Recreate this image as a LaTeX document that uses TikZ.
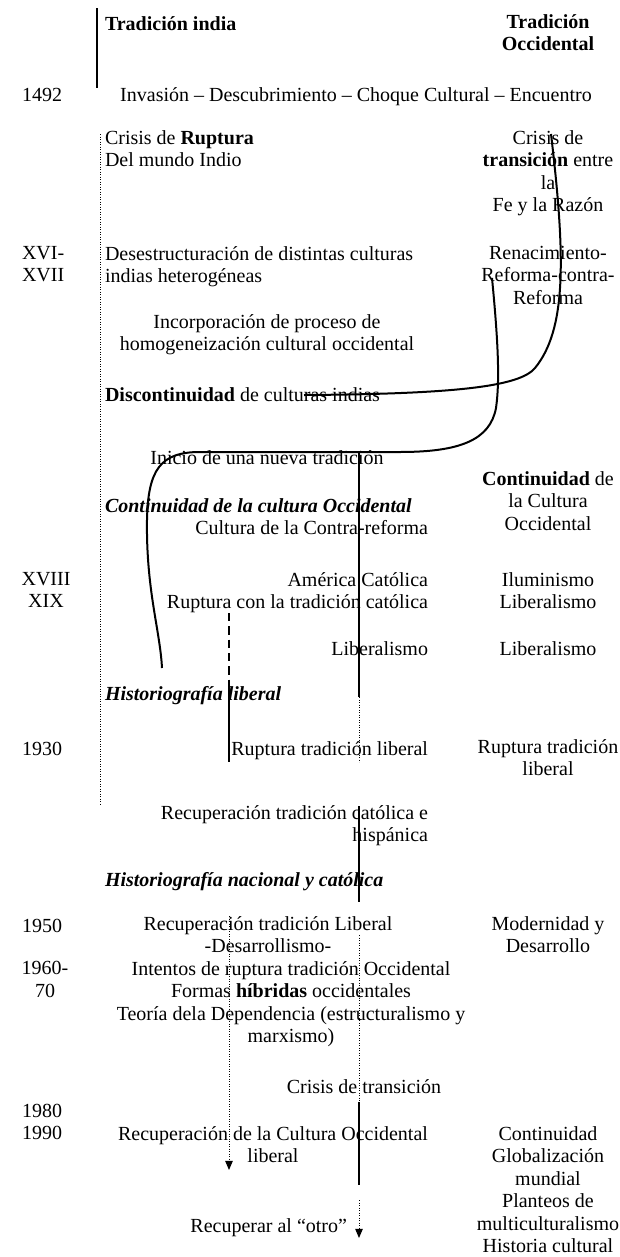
\documentclass[tikz,border=0pt]{standalone}
\usepackage{fontspec}
\setmainfont{Liberation Serif}
\usetikzlibrary{arrows.meta}

\begin{document}
\begin{tikzpicture}[x=0.6pt, y=-0.6pt,
    txt/.style={inner sep=0pt, outer sep=0pt, font=\fontsize{12}{13.5}\selectfont,
                execute at begin node=\strut, yshift=9.45pt},
    izq/.style={txt, anchor=north west, align=left},
    der/.style={txt, anchor=north east, align=right},
    cen/.style={txt, anchor=north, align=center},
    linea/.style={line width=0.9pt},
    curva/.style={line width=1.2pt},
    punteada/.style={line width=0.6pt, dash pattern=on 0.6pt off 0.9pt},
    rayada/.style={line width=0.9pt, dash pattern=on 5pt off 3pt},
    flecha/.style={-{Triangle[length=5.5pt,width=4.5pt]}}]
        \useasboundingbox (0,0) rectangle (620,1257);

        % Encabezados
        \node[izq] (tind) at (105,30) {\textbf{Tradición india}};
        \node[cen] (tocc) at (548,30) {\textbf{Tradición}\\\textbf{Occidental}};

        % 1492
        \node[izq] (a1492) at (22,101) {1492};
        \node[cen] (encuentro) at (356,101) {Invasión – Descubrimiento – Choque Cultural – Encuentro};

        % Crisis
        \node[izq] (rupt) at (105,146) {Crisis de \textbf{Ruptura}\\Del mundo Indio};
        \node[cen] (transic) at (548,146) {Crisis de\\\textbf{transición} entre\\la\\Fe y la Razón};

        % Siglos XVI - XVII
        \node[izq] (s16) at (22,262) {XVI-\\XVII};
        \node[izq] (desest) at (105,262) {Desestructuración de distintas culturas\\indias heterogéneas};
        \node[cen] (renac) at (548,262) {Renacimiento-\\Reforma-contra-\\Reforma};
        \node[cen] (incorp) at (267,330) {Incorporación de proceso de\\homogeneización cultural occidental};
        \node[izq] (discont) at (105,401) {\textbf{Discontinuidad} de culturas indias};

        % Nueva tradicion
        \node[cen] (inicio) at (267,464) {Inicio de una nueva tradición};
        \node[cen] (contocc) at (548,487) {\textbf{Continuidad} de\\la Cultura\\Occidental};
        \node[izq] (contcult) at (105,512) {\textbf{\textit{Continuidad de la cultura Occidental}}};
        \node[der] (contrarref) at (428,534) {Cultura de la Contra-reforma};

        % Siglos XVIII - XIX
        \node[cen] (s18) at (46,588) {XVIII\\XIX};
        \node[der] (amcat) at (428,588) {América Católica\\Ruptura con la tradición católica};
        \node[cen] (ilum) at (548,588) {Iluminismo\\Liberalismo};
        \node[der] (liber) at (428,655) {Liberalismo};
        \node[cen] (liber2) at (548,655) {Liberalismo};
        \node[izq] (histlib) at (105,700) {\textbf{\textit{Historiografía liberal}}};

        % 1930
        \node[izq] (a1930) at (22,755) {1930};
        \node[der] (ruptlib) at (428,755) {Ruptura tradición liberal};
        \node[cen] (ruptlib2) at (548,755) {Ruptura tradición\\liberal};
        \node[der] (recat) at (428,821) {Recuperación tradición católica e\\hispánica};
        \node[izq] (histnac) at (105,886) {\textbf{\textit{Historiografía nacional y católica}}};

        % 1950 - 1970
        \node[izq] (a1950) at (22,932) {1950};
        \node[cen] (relib) at (268,932) {Recuperación tradición Liberal\\-Desarrollismo-};
        \node[cen] (modern) at (548,932) {Modernidad y\\Desarrollo};
        \node[cen] (a1960) at (45,977) {1960-\\70};
        \node[cen] (intentos) at (291,977) {Intentos de ruptura tradición Occidental\\Formas \textbf{híbridas} occidentales\\Teoría dela Dependencia (estructuralismo y\\marxismo)};

        % 1980 - 1990
        \node[cen] (crisis) at (364,1093) {Crisis de transición};
        \node[izq] (a1980) at (22,1119.5) {1980\\1990};
        \node[cen] (recoc) at (273,1142) {Recuperación de la Cultura Occidental\\liberal};
        \node[cen] (global) at (548,1142) {Continuidad\\Globalización\\mundial\\Planteos de\\multiculturalismo\\Historia cultural};
        \node[der] (otro) at (347,1232) {Recuperar al “otro”};

        % Puntos de las lineas
        \coordinate (tI1) at (97,8);    \coordinate (tI2) at (97,88);
        \coordinate (pI1) at (100,134); \coordinate (pI2) at (100,805);
        \coordinate (m1) at (359,452);  \coordinate (m2) at (359,697);
        \coordinate (m3) at (359,762);  \coordinate (m4) at (359,806);
        \coordinate (m5) at (359,902);  \coordinate (m6) at (359,935);
        \coordinate (m7) at (359,1102); \coordinate (m8) at (359,1185);
        \coordinate (m9) at (359,1200); \coordinate (m10) at (359,1238);
        \coordinate (l1) at (229,613);  \coordinate (l2) at (229,680);
        \coordinate (l3) at (229,762);  \coordinate (l4) at (229,916);
        \coordinate (l5) at (229,1170);
        \coordinate (cA1) at (551,134); \coordinate (cA2) at (535,368);
        \coordinate (cA3) at (304,395);
        \coordinate (cB1) at (492,278); \coordinate (cB2) at (496,408);
        \coordinate (cB3) at (400,452); \coordinate (cB4) at (200,452);
        \coordinate (cB5) at (147,520); \coordinate (cB6) at (162,668);

        % Eje de la tradicion india
        \draw[linea] (tI1) -- (tI2);
        \draw[punteada] (pI1) -- (pI2);

        % Linea central
        \draw[linea] (m1) -- (m2);
        \draw[punteada] (m2) -- (m3);
        \draw[linea] (m4) -- (m5);
        \draw[punteada] (m6) -- (m7);
        \draw[linea] (m7) -- (m8);
        \draw[punteada, flecha] (m9) -- (m10);

        % Linea liberal
        \draw[rayada] (l1) -- (l2);
        \draw[linea] (l2) -- (l3);
        \draw[punteada, flecha] (l4) -- (l5);

        % Curvas de la tradicion occidental
        \draw[curva] (cA1) .. controls (566,260) and (566,330) .. (cA2)
            .. controls (520,386) and (460,394) .. (cA3);
        \draw[curva] (cB1) .. controls (498,340) and (500,380) .. (cB2)
            .. controls (490,440) and (460,452) .. (cB3) -- (cB4)
            .. controls (160,452) and (148,470) .. (cB5)
            .. controls (146,590) and (160,630) .. (cB6);

    \end{tikzpicture}
\end{document}
